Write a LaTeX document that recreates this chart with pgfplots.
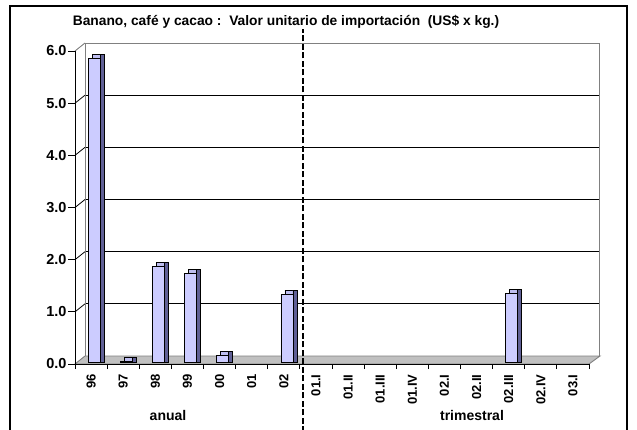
\documentclass[border=0pt]{standalone}
\usepackage{pgfplots}
\usepackage{pgfplotstable}
\pgfplotsset{compat=1.18}
\usepackage{fontspec}
\setmainfont{Liberation Sans}
\definecolor{lav}{RGB}{204,204,255}
\definecolor{lavside}{RGB}{96,96,150}
\definecolor{lavtop}{RGB}{190,190,240}
\definecolor{floorgray}{RGB}{192,192,192}
\definecolor{edgegray}{RGB}{128,128,128}

\pgfplotstableread{
x v
0 5.82
1 0.01
2 1.83
3 1.70
4 0.12
6 1.30
13 1.32
}\bars

\begin{document}
\begin{tikzpicture}
\path[use as bounding box] (0pt,0pt) rectangle (637pt,429pt);
\draw[line width=1.6pt] (10pt,-5pt) rectangle (627pt,423pt);
\node[font=\bfseries\fontsize{13.8}{16}\selectfont] at (286pt,407pt) {Banano, café y cacao :\ \ Valor unitario de importación\ \ (US\$ x kg.)};

% back wall
\begin{axis}[at={(85pt,73pt)}, anchor=south west, scale only axis,
  width=514pt, height=313pt, xmin=-0.5, xmax=15.5, ymin=0, ymax=6,
  xtick=\empty, ytick={1,2,3,4,5}, yticklabels={}, ymajorgrids,
  grid style={black, line width=0.8pt}, major tick length=0pt,
  axis line style={edgegray, line width=0.9pt}]
\end{axis}

% left wall edges
\foreach \k in {1,...,5} {
  \draw[black, line width=0.8pt] (75pt,65pt+\k*52.167pt) -- (85pt,73pt+\k*52.167pt);
}
\draw[edgegray, line width=0.9pt] (75pt,378pt) -- (85pt,386pt);
% floor
\filldraw[fill=floorgray, draw=edgegray, line width=0.9pt] (75pt,65pt) -- (589pt,65pt) -- (600pt,73pt) -- (85pt,73pt) -- cycle;

% front axis
\begin{axis}[at={(75pt,65pt)}, anchor=south west, scale only axis,
  width=514pt, height=313pt, xmin=-0.5, xmax=15.5, ymin=0, ymax=6,
  axis x line*=bottom, axis y line*=left,
  axis line style={black, line width=0.9pt},
  tick align=outside, major tick length=7pt, minor tick length=5pt,
  tick style={black, line width=0.9pt},
  xtick={0,...,15},
  xticklabels={96,97,98,99,00,01,02,01.I,01.II,01.III,01.IV,02.I,02.II,02.III,02.IV,03.I},
  every major x tick/.style={draw=none},
  minor xtick={-0.5,0.5,...,15.5},
  xticklabel style={rotate=90, anchor=east, font=\bfseries\fontsize{13}{15}\selectfont},
  ytick={0,1,2,3,4,5,6},
  yticklabels={0.0,1.0,2.0,3.0,4.0,5.0,6.0},
  yticklabel style={xshift=2pt, font=\bfseries\fontsize{14.5}{16}\selectfont},
  ]
\end{axis}

% bars
\begin{axis}[at={(78pt,67pt)}, anchor=south west, scale only axis,
  width=514pt, height=313pt, xmin=-0.5, xmax=15.5, ymin=0, ymax=6,
  hide axis, clip=false]
\addplot[ybar, bar width=12pt, bar shift=4pt, fill=lavtop, draw=black, line width=0.5pt]
  table[x=x, y expr=\thisrow{v}+0.0767] {\bars};
\addplot[ybar, bar width=4pt, bar shift=8pt, fill=lavside, draw=black, line width=0.5pt]
  table[x=x, y expr=\thisrow{v}+0.0767] {\bars};
\addplot[ybar, bar width=12pt, bar shift=0pt, fill=lav, draw=black, line width=0.6pt]
  table[x=x, y=v] {\bars};
\draw[black, line width=1.8pt, dash pattern=on 6pt off 2.5pt] (axis cs:6.5,-1.35) -- (axis cs:6.5,6.38);
\end{axis}

\node[font=\bfseries\fontsize{14}{16}\selectfont] at (168pt,14pt) {anual};
\node[font=\bfseries\fontsize{14}{16}\selectfont] at (472pt,14pt) {trimestral};
\end{tikzpicture}
\end{document}
